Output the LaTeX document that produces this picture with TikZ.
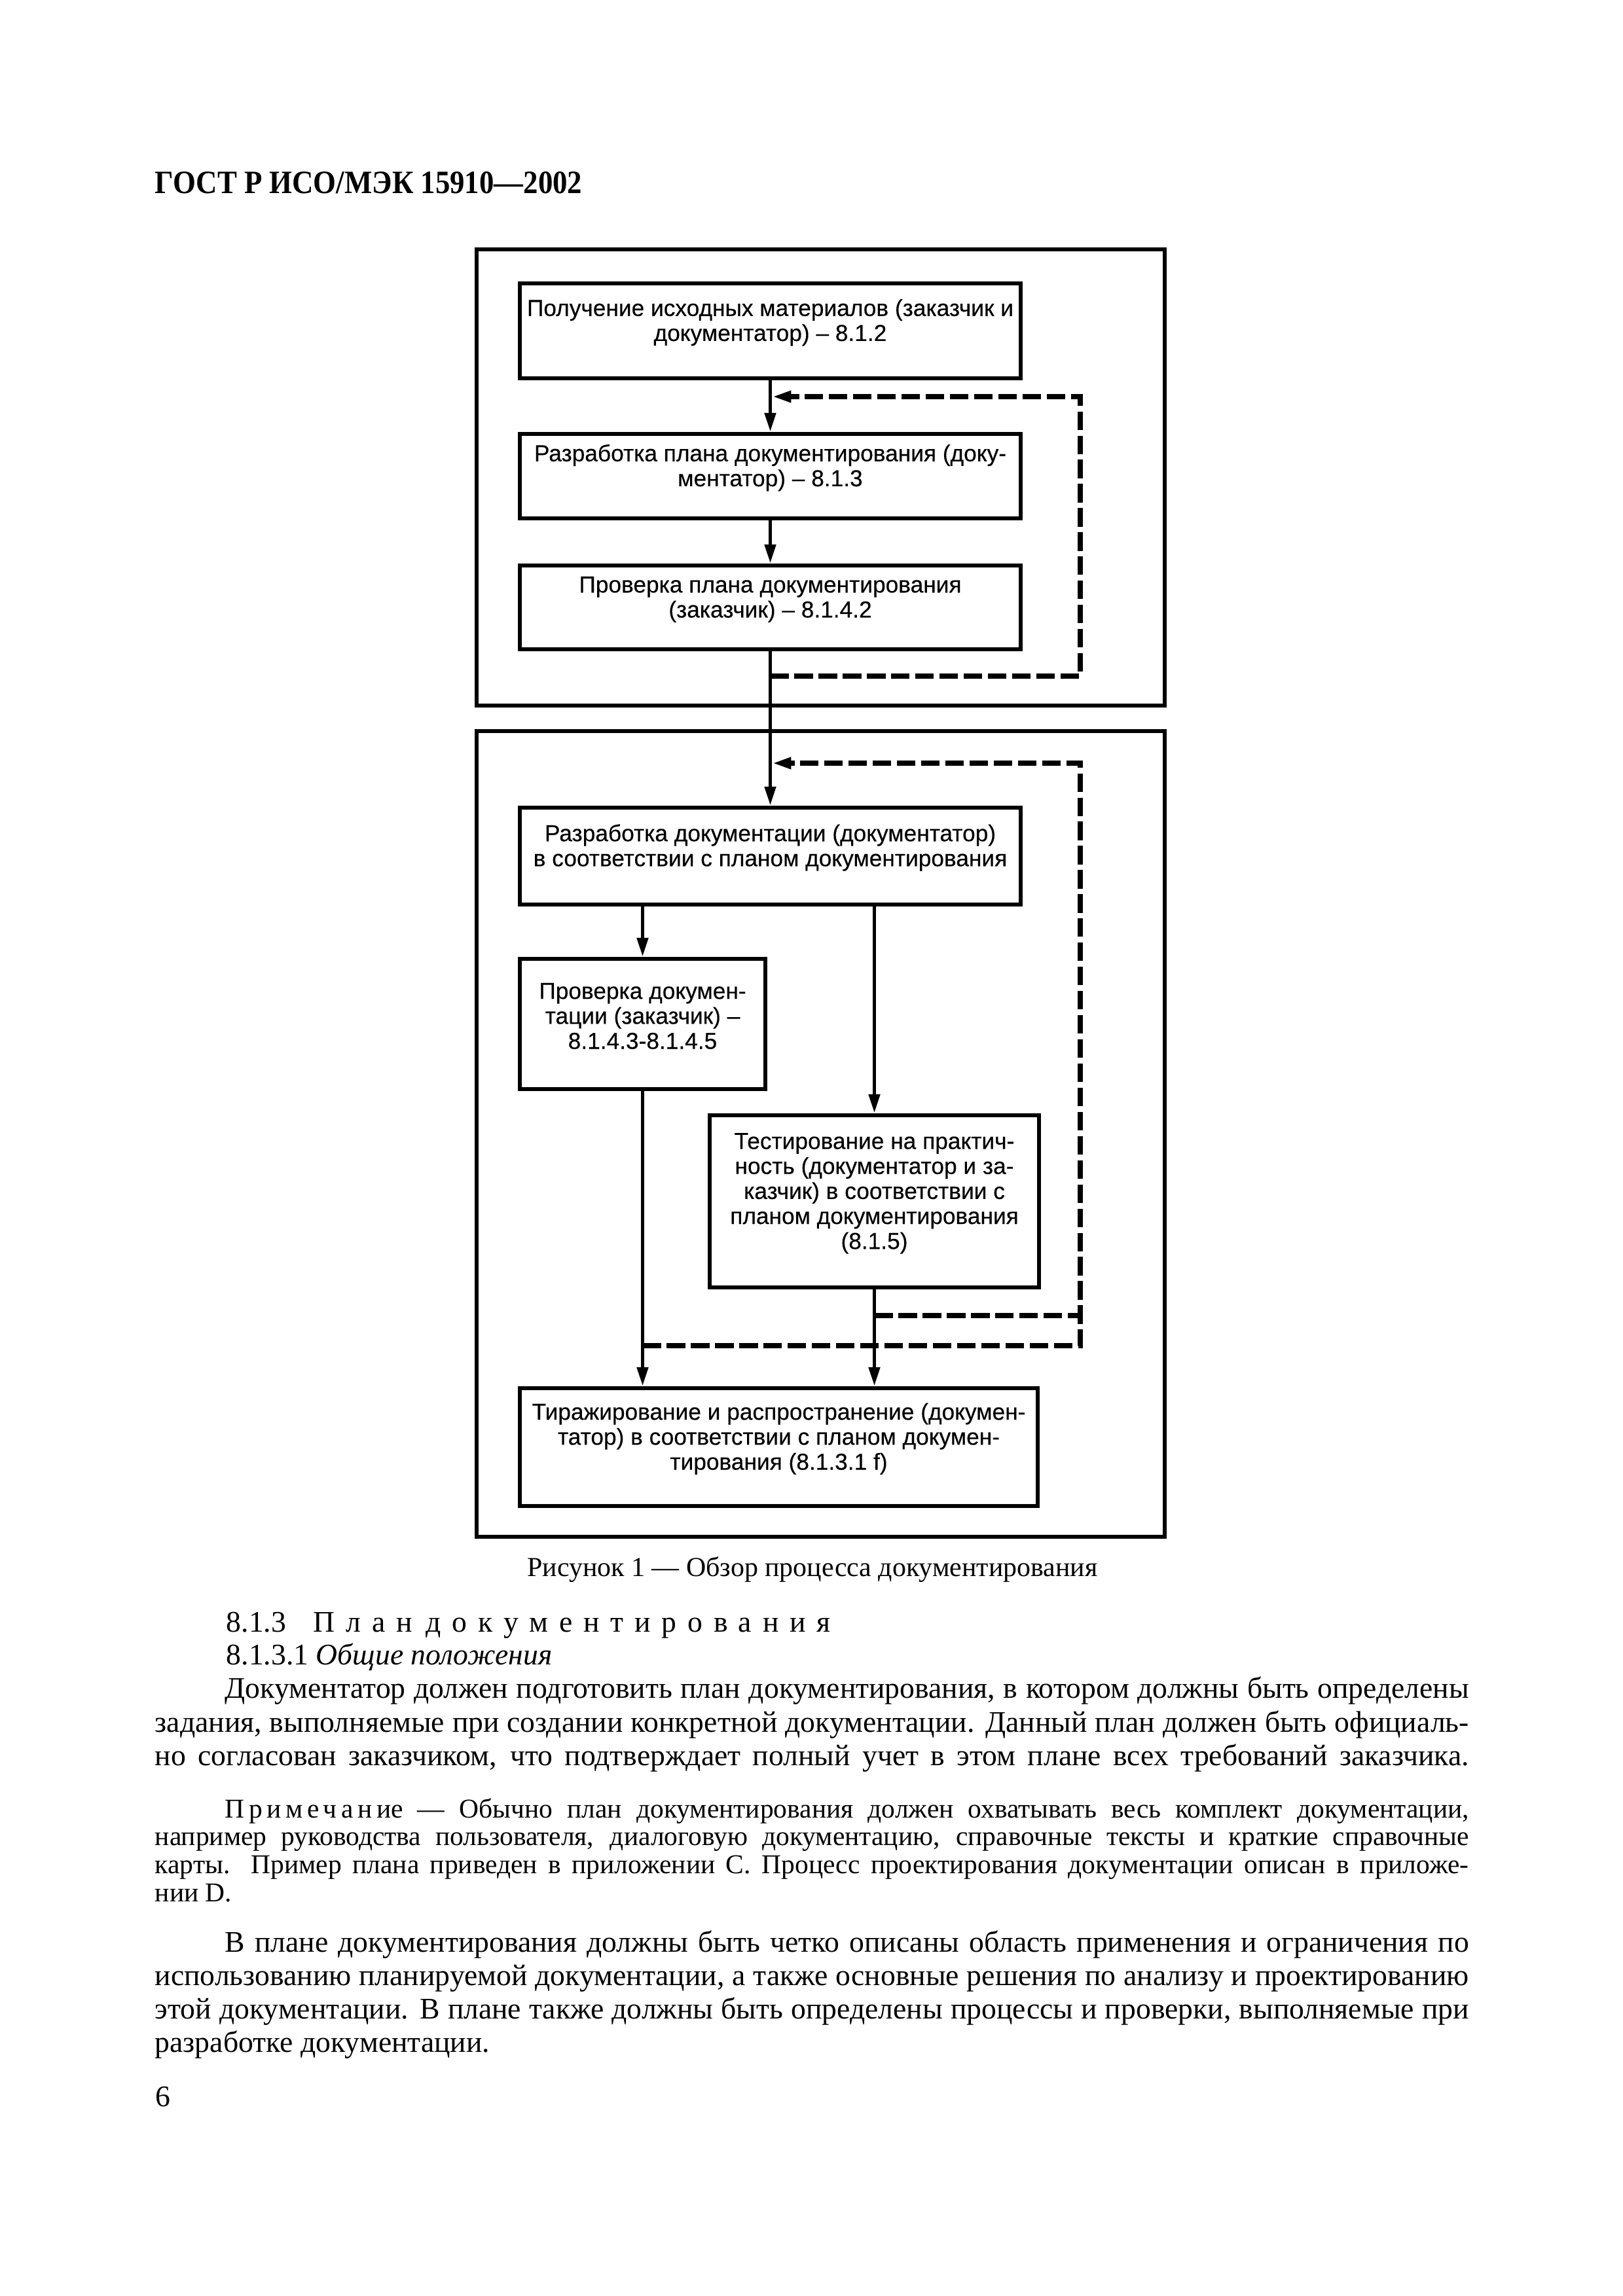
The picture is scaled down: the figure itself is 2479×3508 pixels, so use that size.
\documentclass[tikz,border=0pt]{standalone}
\usepackage{fontspec}
\setmainfont{Liberation Serif}
\newfontfamily\arialf[FakeBold=0.3]{Liberation Sans}
\newfontfamily\hdrfont[FakeStretch=0.9]{Liberation Serif}
\usetikzlibrary{arrows.meta,fit}
\newcommand\pxl[1]{\dimexpr0.0846667mm*#1\relax}
\newcommand\jline[2]{\makebox[\pxl{#1}][s]{#2}}
\begin{document}
\begin{tikzpicture}[x=0.0846667mm,y=-0.0846667mm,
  box/.style={draw, line width=1.5pt, inner sep=0pt, align=center,
    font=\arialf\fontsize{8.5}{9.2}\selectfont},
  frame/.style={draw, line width=1.5pt, inner sep=0pt},
  flow/.style={line width=1.4pt, -{Triangle[length=7pt,width=4pt]}},
  fb/.style={line width=1.9pt, dash pattern=on 6.8pt off 2.1pt},
  fbarrow/.style={fb, -{Triangle[length=7pt,width=4pt]}},
  body/.style={anchor=base west, inner sep=0pt, font=\fontsize{11}{12.4}\selectfont},
  note/.style={anchor=base west, inner sep=0pt, font=\fontsize{10}{10.2}\selectfont}]

\useasboundingbox (0,0) rectangle (2479,3508);
\fill[white] (0,0) rectangle (2479,3508);

% header
\node[anchor=base west, inner sep=0pt, font=\hdrfont\bfseries\fontsize{12}{14}\selectfont] (hdr) at (236,295) {ГОСТ Р ИСО/МЭК 15910—2002};

% frames
\node[frame, fit={(728,381) (1779,1078)}] (fr1) {};
\node[frame, fit={(728,1117) (1779,2348)}] (fr2) {};

% boxes
\node[box, fit={(794,433) (1559,578)}] (A) {Получение исходных материалов (заказчик и\\документатор) – 8.1.2};
\node[box, fit={(794,663) (1559,792)}] (B) {Разработка плана документирования (доку-\\ментатор) – 8.1.3};
\node[box, fit={(794,864) (1559,992)}] (C) {Проверка плана документирования\\(заказчик) – 8.1.4.2};
\node[box, fit={(794,1234) (1559,1382)}] (D) {Разработка документации (документатор)\\в соответствии с планом документирования};
\node[box, fit={(794,1465) (1169,1664)}] (E) {Проверка докумен-\\тации (заказчик) –\\8.1.4.3-8.1.4.5};
\node[box, fit={(1084,1704) (1587,1967)}] (F) {Тестирование на практич-\\ность (документатор и за-\\казчик) в соответствии с\\планом документирования\\(8.1.5)};
\node[box, fit={(794,2121) (1585,2301)}] (G) {Тиражирование и распространение (докумен-\\татор) в соответствии с планом докумен-\\тирования (8.1.3.1 f)};

% feedback coordinates
\coordinate (t1) at (1650,606);
\coordinate (t2) at (1650,1033);
\coordinate (b1) at (1650,1166);
\coordinate (b2) at (1650,2010);
\coordinate (b3) at (1650,2056);

% solid connectors
\draw[flow] (A.south) -- (B.north);
\draw[flow] (B.south) -- (C.north);
\draw[flow] (C.south) -- (D.north);
\draw[flow] (D.south -| E.north) -- (E.north);
\draw[flow] (D.south -| F.north) -- (F.north);
\draw[flow] (E.south) -- (G.north -| E.south);
\draw[flow] (F.south) -- (G.north -| F.south);

% dashed feedback
\draw[fbarrow] (C.south |- t2) -- (t2) -- (t1) -- ([xshift=0.7pt]A.south |- t1);
\draw[fb] (F.south |- b2) -- (b2);
\draw[fbarrow] (E.south |- b3) -- (b3) -- (b1) -- ([xshift=0.7pt]D.north |- b1);

% caption
\node[anchor=base, inner sep=0pt, font=\fontsize{10.1}{12}\selectfont] (cap) at (1241,2408) {Рисунок 1 — Обзор процесса документирования};

% section heading
\node[body] (h1a) at (345,2493) {8.1.3};
\node[body] (h1b) at (478,2493) {\addfontfeature{LetterSpace=37}План};
\node[body] (h1c) at (650,2493) {\addfontfeature{LetterSpace=37}документирования};
\node[body] (h2) at (345,2543) {8.1.3.1 \textit{Общие положения}};

% paragraph 1
\node[body] (l1) at (343,2594) {\jline{1900}{Документатор должен подготовить план документирования, в котором должны быть определены}};
\node[body] (l2) at (236,2646) {\jline{2007}{задания, выполняемые при создании конкретной документации. Данный план должен быть официаль-}};
\node[body] (l3) at (236,2697) {\jline{2007}{но согласован заказчиком, что подтверждает полный учет в этом плане всех требований заказчика.}};

% note
\node[note] (n1) at (343,2777) {\jline{1900}{{\addfontfeature{LetterSpace=16}Примечани}е — Обычно план документирования должен охватывать весь комплект документации,}};
\node[note] (n2) at (236,2819) {\jline{2007}{например руководства пользователя, диалоговую документацию, справочные тексты и краткие справочные}};
\node[note] (n3) at (236,2862) {\jline{2007}{карты. Пример плана приведен в приложении С. Процесс проектирования документации описан в приложе-}};
\node[note] (n4) at (236,2905) {нии D.};

% paragraph 2
\node[body] (p1) at (343,2982) {\jline{1900}{В плане документирования должны быть четко описаны область применения и ограничения по}};
\node[body] (p2) at (236,3033) {\jline{2007}{использованию планируемой документации, а также основные решения по анализу и проектированию}};
\node[body] (p3) at (236,3084) {\jline{2007}{этой документации. В плане также должны быть определены процессы и проверки, выполняемые при}};
\node[body] (p4) at (236,3135) {разработке документации.};

% page number
\node[body] (pg) at (237,3218) {6};
\end{tikzpicture}
\end{document}
